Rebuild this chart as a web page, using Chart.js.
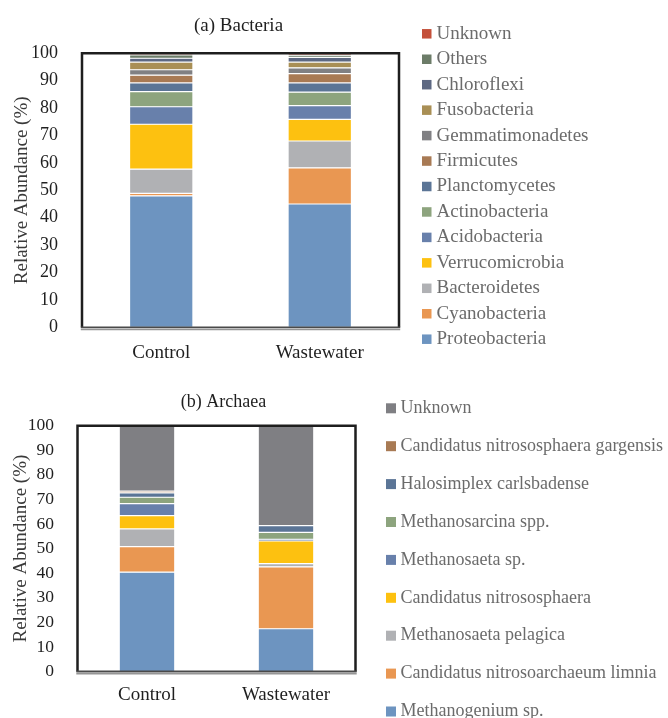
<!DOCTYPE html>
<html>
<head>
<meta charset="utf-8">
<script src="https://cdn.jsdelivr.net/npm/chart.js@4.4.1/dist/chart.umd.min.js"></script>
<style>
  html, body { margin: 0; padding: 0; background: #fff; }
  #wrap { position: relative; width: 668px; height: 718px; overflow: hidden; }
  canvas { position: absolute; left: 0; }
  #bacteria { top: 0; }
  #archaea { top: 372px; }
</style>
</head>
<body>
<div id="wrap">
  <canvas id="bacteria" width="668" height="372"></canvas>
  <canvas id="archaea" width="668" height="346"></canvas>
</div>
<script>
// Sample groups
const groups = ['Control', 'Wastewater'];
const yTicks = [0, 10, 20, 30, 40, 50, 60, 70, 80, 90, 100];

// (a) Bacteria: relative abundance (%) per phylum, stacked bottom to top
const proteobacteria   = [48.0, 45.0];
const cyanobacteria    = [0.9, 13.2];
const bacteroidetes    = [8.8, 9.8];
const verrucomicrobia  = [16.4, 7.9];
const acidobacteria    = [6.4, 5.0];
const actinobacteria   = [5.5, 4.9];
const planctomycetes   = [3.2, 3.4];
const firmicutes       = [2.8, 3.4];
const gemmatimonadetes = [2.0, 2.1];
const fusobacteria     = [2.8, 2.1];
const chloroflexi      = [1.4, 1.7];
const othersBacteria   = [1.2, 0.8];
const unknownBacteria  = [0.6, 0.7];

// (b) Archaea: relative abundance (%) per taxon, stacked bottom to top
const methanogenium      = [40.4, 17.4];
const nitrosoarchaeum    = [10.4, 25.2];
const methanosaetaPel    = [7.2, 1.3];
const nitrososphaera     = [5.4, 9.2];
const methanosaetaSp     = [4.9, 0.7];
const methanosarcina     = [2.6, 2.8];
const halosimplex        = [1.8, 2.7];
const nitrososphaeraGarg = [0.7, 0.1];
const unknownArchaea     = [26.6, 40.6];

const SERIF = "'Liberation Serif', 'Times New Roman', serif";

const bacteriaSeries = [
  ['Proteobacteria', proteobacteria, '#6d94c0'],
  ['Cyanobacteria', cyanobacteria, '#e99752'],
  ['Bacteroidetes', bacteroidetes, '#b0b1b4'],
  ['Verrucomicrobia', verrucomicrobia, '#fdc110'],
  ['Acidobacteria', acidobacteria, '#6880ab'],
  ['Actinobacteria', actinobacteria, '#8da47e'],
  ['Planctomycetes', planctomycetes, '#5b7596'],
  ['Firmicutes', firmicutes, '#a87a54'],
  ['Gemmatimonadetes', gemmatimonadetes, '#808083'],
  ['Fusobacteria', fusobacteria, '#a98f55'],
  ['Chloroflexi', chloroflexi, '#5d6882'],
  ['Others', othersBacteria, '#6c7c68'],
  ['Unknown', unknownBacteria, '#c4503a']
];

const archaeaSeries = [
  ['Methanogenium sp.', methanogenium, '#6d94c0'],
  ['Candidatus nitrosoarchaeum limnia', nitrosoarchaeum, '#e99752'],
  ['Methanosaeta pelagica', methanosaetaPel, '#b0b1b4'],
  ['Candidatus nitrososphaera', nitrososphaera, '#fdc110'],
  ['Methanosaeta sp.', methanosaetaSp, '#6880ab'],
  ['Methanosarcina spp.', methanosarcina, '#8da47e'],
  ['Halosimplex carlsbadense', halosimplex, '#5b7596'],
  ['Candidatus nitrososphaera gargensis', nitrososphaeraGarg, '#a87a54'],
  ['Unknown', unknownArchaea, '#7f7f83']
];

// Box around the plot area, with the doubled base line
const plotFrame = {
  id: 'plotFrame',
  afterLayout(chart, args, o) {
    const t = chart.titleBlock;
    if (t && o.titleShift) { t.left += o.titleShift; t.right += o.titleShift; }
  },
  afterDatasetsDraw(chart) {
    const { ctx, chartArea: a } = chart;
    ctx.save();
    ctx.strokeStyle = '#1e1e1e';
    ctx.lineWidth = 2.5;
    ctx.beginPath();
    ctx.moveTo(a.left, a.bottom);
    ctx.lineTo(a.left, a.top);
    ctx.lineTo(a.right, a.top);
    ctx.lineTo(a.right, a.bottom);
    ctx.stroke();
    ctx.strokeStyle = '#4a4a4a';
    ctx.lineWidth = 1.8;
    ctx.beginPath();
    ctx.moveTo(a.left - 1.2, a.bottom);
    ctx.lineTo(a.right + 1.2, a.bottom);
    ctx.stroke();
    ctx.strokeStyle = '#959595';
    ctx.lineWidth = 1.6;
    ctx.beginPath();
    ctx.moveTo(a.left - 1.2, a.bottom + 2.2);
    ctx.lineTo(a.right + 1.2, a.bottom + 2.2);
    ctx.stroke();
    ctx.restore();
  }
};

// Vertical key to the right of the plot, top item = last stacked series
const sideLegend = {
  id: 'sideLegend',
  afterDraw(chart, args, o) {
    const ctx = chart.ctx;
    ctx.save();
    ctx.font = o.size + 'px ' + SERIF;
    ctx.textBaseline = 'middle';
    ctx.textAlign = 'left';
    chart.data.datasets.slice().reverse().forEach((d, i) => {
      const cy = o.top + i * o.step;
      ctx.fillStyle = d.backgroundColor;
      ctx.fillRect(o.left, cy - o.box / 2, o.box, o.box);
      ctx.fillStyle = o.color;
      ctx.fillText(d.label, o.left + o.box + o.gap, cy);
    });
    ctx.restore();
  }
};

function stackedChart(id, series, c) {
  return new Chart(document.getElementById(id), {
    type: 'bar',
    data: {
      labels: groups,
      datasets: series.map(([name, values, color]) => ({
        label: name,
        data: values,
        backgroundColor: color,
        borderColor: 'rgba(255,255,255,0.35)',
        borderWidth: 0.6,
        borderSkipped: false,
        barPercentage: 0.4,
        categoryPercentage: 1
      }))
    },
    options: {
      responsive: false,
      animation: false,
      devicePixelRatio: 1,
      layout: { padding: { left: 0, top: 0, right: c.padRight, bottom: 0 } },
      plugins: {
        legend: { display: false },
        tooltip: { enabled: false },
        title: {
          display: true,
          text: c.title,
          fullSize: false,
          color: '#1f1f1f',
          font: { family: SERIF, size: c.titleSize, weight: 'normal', lineHeight: 1.2 },
          padding: { top: c.titlePadTop, bottom: c.titlePadBottom }
        },
        plotFrame: { titleShift: c.titleShift },
        sideLegend: c.legend
      },
      scales: {
        x: {
          stacked: true,
          grid: { display: false },
          border: { display: false },
          ticks: { color: '#1f1f1f', font: { family: SERIF, size: 19, lineHeight: 1.2 }, padding: c.xTickPad },
          afterFit: s => { s.height = c.xAxisHeight; }
        },
        y: {
          stacked: true,
          min: 0,
          max: 100,
          afterBuildTicks: s => { s.ticks = yTicks.map(v => ({ value: v })); },
          grid: { display: false },
          border: { display: false },
          ticks: { color: '#1f1f1f', font: { family: SERIF, size: c.yTickSize }, padding: c.yTickPad },
          title: {
            display: true,
            text: 'Relative Abundance (%)',
            color: '#3a3a3a',
            font: { family: SERIF, size: 19, lineHeight: 1.2 },
            padding: { top: c.yTitlePad, bottom: 0 }
          },
          afterFit: s => { s.width = c.yAxisWidth; }
        }
      }
    },
    plugins: [plotFrame, sideLegend]
  });
}

stackedChart('bacteria', bacteriaSeries, {
  title: '(a) Bacteria', titleSize: 19, titlePadTop: 14.5, titlePadBottom: 16, titleShift: -2,
  padRight: 269, yAxisWidth: 82, xAxisHeight: 44.7, xTickPad: 6.5, yTickSize: 18, yTickPad: 16, yTitlePad: 10.6,
  legend: { left: 422, top: 33.8, step: 25.45, box: 9.5, gap: 5, size: 19, color: '#6b6b6b' }
});

stackedChart('archaea', archaeaSeries, {
  title: '(b) Archaea', titleSize: 18, titlePadTop: 19.7, titlePadBottom: 12.4, titleShift: 7,
  padRight: 312.5, yAxisWidth: 77.5, xAxisHeight: 46.5, xTickPad: 4.5, yTickSize: 17.5, yTickPad: 15.5, yTitlePad: 9.6,
  legend: { left: 386, top: 36.3, step: 37.9, box: 10, gap: 4.5, size: 18, color: '#6b6b6b' }
});
</script>
</body>
</html>
